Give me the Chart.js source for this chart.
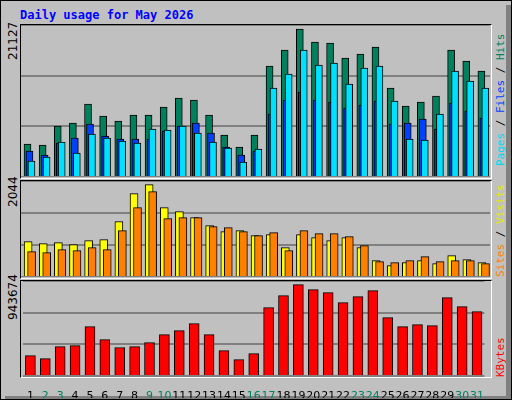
<!DOCTYPE html>
<html><head><meta charset="utf-8">
<script src="https://cdn.jsdelivr.net/npm/chart.js@4"></script>
<style>
body{margin:0;width:512px;height:400px;overflow:hidden;background:#fff}
#frame{position:absolute;left:0;top:0;width:510px;height:398px;background:#c0c0c0;border:1px solid #000}
#shade{position:absolute;right:0;top:4px;width:5px;height:394px;background:#808080}
#shadeb{position:absolute;left:4px;bottom:0;width:506px;height:3px;background:#808080}
.title{position:absolute;left:20px;top:8px;font:bold 12px "DejaVu Sans Mono",monospace;color:#0000ff}
.box{position:absolute;border:1px solid #000;border-right-color:#fff;border-bottom-color:#fff}
canvas{position:absolute}
.rl{position:absolute;transform-origin:0 0;transform:rotate(-90deg);white-space:nowrap}
.ymax{font:12px "DejaVu Sans",sans-serif;color:#000}
.leg{font:11px "DejaVu Sans Mono",monospace}
</style></head><body>
<div id="frame"><div id="shade"></div><div id="shadeb"></div></div>
<div class="title">Daily usage for May 2026</div>
<div class="box" style="left:20px;top:24px;width:470px;height:153px"></div>
<div class="box" style="left:20px;top:180px;width:470px;height:97px"></div>
<div class="box" style="left:20px;top:280px;width:470px;height:96px"></div>
<canvas id="c1" style="left:21px;top:25px;width:469px;height:152px"></canvas>
<canvas id="c2" style="left:21px;top:181px;width:469px;height:96px"></canvas>
<canvas id="c3" style="left:21px;top:281px;width:469px;height:117px"></canvas>
<div class="rl ymax" style="left:6px;top:60px">21127</div>
<div class="rl ymax" style="left:6px;top:207px">2044</div>
<div class="rl ymax" style="left:6px;top:320px">943674</div>
<div class="rl leg" style="left:494px;top:166px"><span style="color:#00d8f0">Pages</span> / <span style="color:#0040ff">Files</span> / <span style="color:#00805c">Hits</span></div>
<div class="rl leg" style="left:494px;top:277px"><span style="color:#ff8000">Sites</span> / <span style="color:#e8e800">Visits</span></div>
<div class="rl leg" style="left:494px;top:377px"><span style="color:#ff0000">KBytes</span></div>
<script>
const DAYS = Array.from({length: 31}, (_, i) => i + 1);
const WEEKEND = [2, 3, 9, 10, 16, 17, 23, 24, 30, 31];
const MAX_HITS = 21127;
const MAX_VISITS = 2044;
const MAX_KB = 943674;

const hits = [4587,4448,7089,7506,10147,8479,7784,8618,8618,9730,10981,10703,8618,5838,4170,5838,15429,17653,20572,18765,18626,16541,17097,18070,12371,9869,10425,11259,17653,16124,14734];
const files = [3614,3058,4726,5421,7367,5699,5282,5282,5282,6394,7089,7506,6116,4170,3058,3614,8757,10703,11815,10703,10425,9591,10008,10564,7367,7506,8062,6672,10286,9174,8201];
const pages = [2224,2780,4865,3336,5977,5421,5004,4726,6672,6533,7089,6116,4865,4031,2085,3892,12371,14317,17653,15568,15846,12927,15151,15429,10564,5282,5143,8757,14734,13344,12371];
const sites = [753,710,731,689,774,795,1179,1775,1967,1477,1392,1264,1093,966,987,880,902,625,902,838,774,838,625,348,241,305,348,284,454,369,305];
const visits = [540,518,582,561,625,582,987,1477,1818,1243,1264,1264,1072,1051,966,880,944,561,987,923,923,859,667,327,305,348,433,327,348,348,284];
const kbytes = [202000,172200,291400,301300,490000,360900,281400,291400,331100,410600,450300,519800,410600,251600,162200,221800,678800,797900,907200,857500,827800,728400,788000,847600,579400,490000,509900,500000,778100,688700,639000];

const grid = { color: "#808080", lineWidth: 2, drawTicks: false };

function series(values, shift) {
  return values.map((v, i) => ({ x: DAYS[i] + shift, y: v }));
}

function bar(data, color, width, order) {
  return { data, order, backgroundColor: color, borderColor: "#000", borderWidth: 1, barThickness: width, borderSkipped: "bottom", grouped: false };
}

function yScale(max) {
  return { min: 0, max, display: true, border: { display: false }, grid, ticks: { display: false, stepSize: max / 3 },
    afterFit: (ax) => { ax.width = 0; } };
}

const common = {
  responsive: false, animation: false, maintainAspectRatio: false,
  plugins: { legend: { display: false }, tooltip: { enabled: false } },
  layout: { padding: 0 },
};

function sizeCanvas(id) {
  const c = document.getElementById(id);
  c.width = parseInt(c.style.width);
  c.height = parseInt(c.style.height);
  return c;
}

const xLinear = { type: "linear", min: 0.5, max: 31.5, offset: false, display: false };

new Chart(sizeCanvas("c1"), {
  type: "bar",
  data: { datasets: [
    bar(series(hits, -0.07), "#00805c", 7, 3),
    bar(series(files, 0.06), "#0040ff", 7, 2),
    bar(series(pages, 0.19), "#00e0ff", 7, 1),
  ] },
  options: { ...common, scales: { x: xLinear, y: yScale(MAX_HITS) } },
});

new Chart(sizeCanvas("c2"), {
  type: "bar",
  data: { datasets: [
    bar(series(sites, -0.03), "#ffff00", 8, 2),
    bar(series(visits, 0.2), "#ff8000", 8, 1),
  ] },
  options: { ...common, scales: { x: xLinear, y: yScale(MAX_VISITS) } },
});

new Chart(sizeCanvas("c3"), {
  type: "bar",
  data: { labels: DAYS.map(String), datasets: [bar(kbytes, "#ff0000", 10, 1)] },
  options: { ...common, scales: {
    x: { type: "category", offset: true, border: { display: false }, grid: { display: false },
      afterFit: (ax) => { ax.height = 22; },
      ticks: { padding: 6, maxRotation: 0, autoSkip: false,
        font: { family: "DejaVu Sans", size: 11 },
        color: (ctx) => WEEKEND.includes(DAYS[ctx.index]) ? "#008060" : "#000" } },
    y: yScale(MAX_KB),
  } },
});
</script>
</body></html>
